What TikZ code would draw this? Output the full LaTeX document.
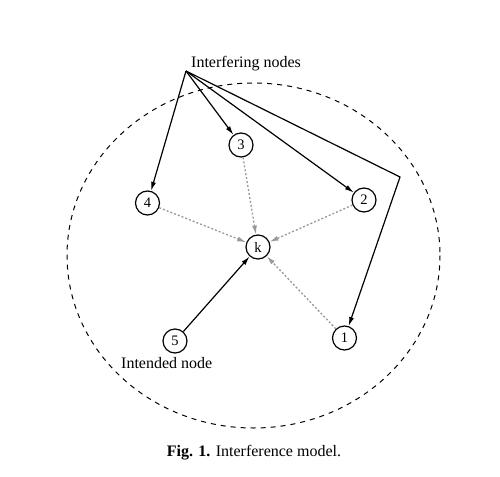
\documentclass[tikz,border=0pt]{standalone}
\usepackage{fontspec}
\setmainfont{Liberation Serif}
\usetikzlibrary{arrows.meta}
\begin{document}
\begin{tikzpicture}[x=1pt,y=-1pt,
  nd/.style={draw,circle,line width=1.2pt,minimum size=24pt,inner sep=0pt,font=\fontsize{14.5}{16}\selectfont},
  lbl/.style={inner sep=0pt,font=\fontsize{16}{18}\selectfont},
  tip/.style={-{Latex[length=9pt,width=5pt]}},
  solidarr/.style={tip,line width=1.2pt,black},
  dotarr/.style={tip,line width=1.3pt,gray!80,dash pattern=on 2pt off 2pt}]
\useasboundingbox[fill=white] (0,0) rectangle (500,476);
\draw[line width=1pt,dash pattern=on 5pt off 5pt] (253.5,255.5) ellipse [x radius=186.5,y radius=172.5];
\node[nd] (n3) at (241,145) {3};
\node[nd] (n4) at (147.5,203) {4};
\node[nd] (n2) at (364,200) {2};
\node[nd] (nk) at (258,247) {k};
\node[nd] (n5) at (175,341) {5};
\node[nd] (n1) at (344.5,338) {1};
\coordinate (src) at (186,71);
\coordinate (bend) at (400,177);
\node[lbl,anchor=west] (intf) at (191,64) {Interfering nodes};
\node[lbl,anchor=west] (intd) at (121,363) {Intended node};
\node[lbl] (cap) at (254,453) {\textbf{Fig. 1.} Interference model.};
\draw[solidarr] (src) -- (n4);
\draw[solidarr] (src) -- (n3);
\draw[solidarr] (src) -- (n2);
\draw[solidarr] (src) -- (bend) -- (n1);
\draw[dotarr] (n3) -- (nk);
\draw[dotarr] (n4) -- (nk);
\draw[dotarr] (n2) -- (nk);
\draw[dotarr] (n1) -- (nk);
\draw[solidarr] (n5) -- (nk);
\end{tikzpicture}
\end{document}
